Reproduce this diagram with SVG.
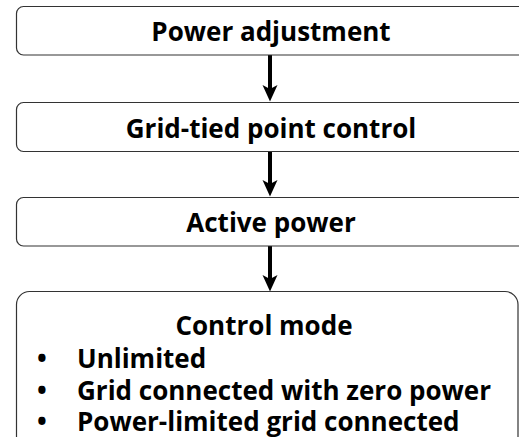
<svg xmlns="http://www.w3.org/2000/svg" width="519" height="437" viewBox="0 0 519 437">
<style>
.box{fill:#ffffff;stroke:#333333;stroke-width:1.2}
.t{font-family:"Open Sans","DejaVu Sans",sans-serif;font-weight:bold;font-size:26px;fill:#000000}
.c{text-anchor:middle}
.conn{stroke:#000000;stroke-width:4;fill:none}
.head{fill:#000000}
</style>
<rect width="519" height="437" fill="#ffffff"/>
<g id="connectors">
<line class="conn" x1="270" y1="55" x2="270" y2="90"/>
<path class="head" d="M262.5,85 L270,101.5 L277.5,85 L270,89 Z"/>
<line class="conn" x1="270" y1="152" x2="270" y2="185"/>
<path class="head" d="M262.5,180 L270,196.5 L277.5,180 L270,184 Z"/>
<line class="conn" x1="270" y1="246" x2="270" y2="280"/>
<path class="head" d="M262.5,275 L270,291.5 L277.5,275 L270,279 Z"/>
</g>
<g id="n1">
<rect class="box" x="16.5" y="6.5" width="510" height="48.5" rx="7"/>
<text class="t c" x="271" y="41">Power adjustment</text>
</g>
<g id="n2">
<rect class="box" x="16.5" y="102.5" width="510" height="49" rx="7"/>
<text class="t c" x="271" y="137.5">Grid-tied point control</text>
</g>
<g id="n3">
<rect class="box" x="16.5" y="197.5" width="510" height="48.5" rx="7"/>
<text class="t c" x="271" y="232">Active power</text>
</g>
<g id="n4">
<rect class="box" x="16.5" y="291.5" width="501.5" height="160" rx="13"/>
<text class="t c" x="264" y="335">Control mode</text>
<text class="t" x="37" y="367.5">•</text>
<text class="t" x="77" y="367.5">Unlimited</text>
<text class="t" x="37" y="399.5">•</text>
<text class="t" x="77" y="399.5">Grid connected with zero power</text>
<text class="t" x="37" y="431">•</text>
<text class="t" x="77" y="431">Power-limited grid connected</text>
</g>
</svg>
